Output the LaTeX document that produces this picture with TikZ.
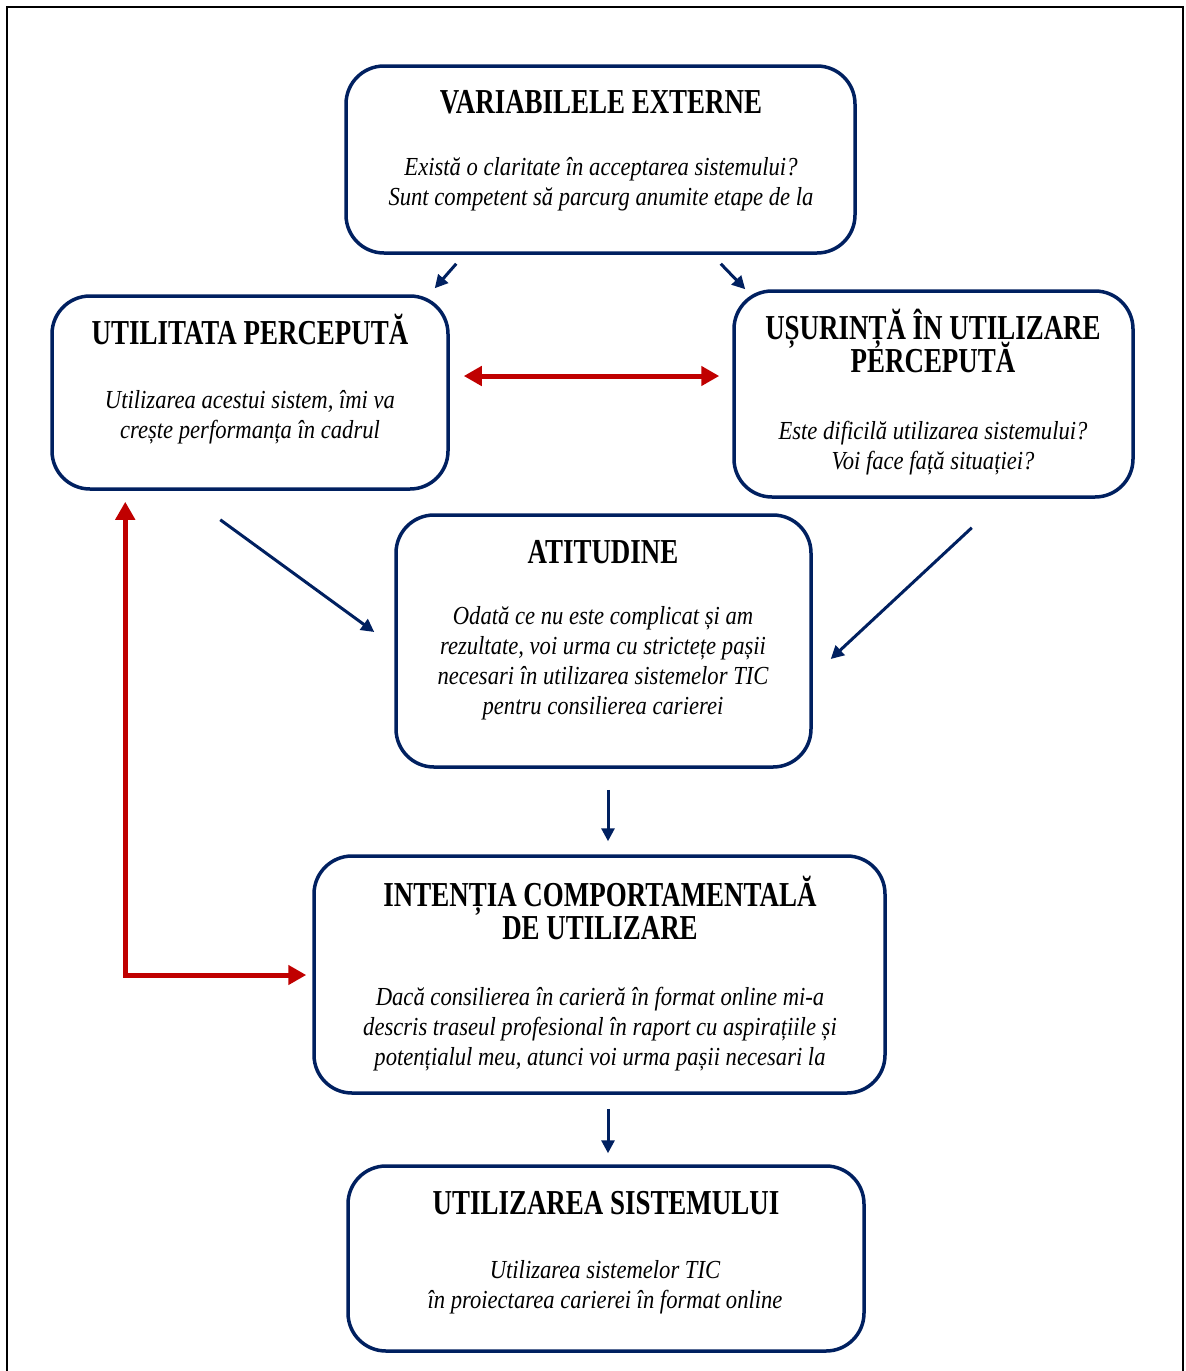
\documentclass[tikz,border=0pt]{standalone}
\usepackage{fontspec}
\setmainfont{Liberation Serif}
\newfontfamily\headfont{Liberation Serif}[FakeStretch=0.77]
\newfontfamily\bodyfont{Liberation Serif}[FakeStretch=0.87]
\usetikzlibrary{arrows.meta,calc,fit}
\definecolor{navy}{HTML}{002060}
\definecolor{darkred}{HTML}{C00000}
% fixed line pitch, even when accents collide
\newcommand{\tightlines}{\lineskiplimit-50pt\relax}

\begin{document}
\begin{tikzpicture}[x=0.5pt,y=-0.5pt,
  box/.style={draw=navy,line width=1.75pt,rounded corners=19pt,inner sep=0pt},
  % multi-line text nodes are anchored on the baseline of their last line
  head/.style={font={\headfont\bfseries\fontsize{17.5}{16.5}\selectfont\tightlines},align=center,anchor=base,inner sep=0pt},
  body/.style={font={\bodyfont\itshape\fontsize{13}{15}\selectfont\tightlines},align=center,anchor=base,inner sep=0pt},
  flow/.style={draw=navy,line width=1.5pt,-{Triangle[length=6.5pt,width=6.5pt]}},
  link/.style={draw=darkred,line width=2.5pt,{Triangle[length=9pt,width=9.5pt]}-{Triangle[length=9pt,width=9.5pt]}}]

\useasboundingbox (0,0) rectangle (1185,1371);
\fill[white] (0,0) rectangle (1185,1371);

% page frame
\draw[black,line width=1.25pt] (7,1380) -- (7,7) -- (1183,7) -- (1183,1380);

% boxes
\node[box,fit={(346,66)(855,253)}] (ve) {};
\node[box,fit={(52,296)(448,489)}] (up) {};
\node[box,fit={(734,291)(1133,497)}] (uu) {};
\node[box,fit={(396,515)(811,767)}] (att) {};
\node[box,fit={(314,856)(885,1093)}] (int) {};
\node[box,fit={(348,1166)(864,1351)}] (us) {};

% texts
\node[head] (ve-t) at (601,113) {VARIABILELE EXTERNE};
\node[body] (ve-b) at (601,205) {Există o claritate în acceptarea sistemului?\\Sunt competent să parcurg anumite etape de la};

\node[head] (up-t) at (250,344) {UTILITATA PERCEPUTĂ};
\node[body] (up-b) at (250,438.5) {Utilizarea acestui sistem, îmi va\\crește performanța în cadrul};

\node[head] (uu-t) at (933,372) {UȘURINȚĂ ÎN UTILIZARE\\PERCEPUTĂ};
\node[body] (uu-b) at (933,469.5) {Este dificilă utilizarea sistemului?\\Voi face față situației?};

\node[head] (att-t) at (603,563) {ATITUDINE};
\node[body] (att-b) at (603,714.5) {Odată ce nu este complicat și am\\rezultate, voi urma cu strictețe pașii\\necesari în utilizarea sistemelor TIC\\pentru consilierea carierei};

\node[head] (int-t) at (600,939) {INTENȚIA COMPORTAMENTALĂ\\DE UTILIZARE};
\node[body] (int-b) at (600,1065.5) {Dacă consilierea în carieră în format online mi-a\\descris traseul profesional în raport cu aspirațiile și\\potențialul meu, atunci voi urma pașii necesari la};

\node[head] (us-t) at (606,1214) {UTILIZAREA SISTEMULUI};
\node[body] (us-b) at (605,1308.5) {Utilizarea sistemelor TIC\\în proiectarea carierei în format online};

% navy connectors
\draw[flow] ($(ve.south west)+(112,9)$) -- ($(up.north east)+(-15,-6)$);
\draw[flow] ($(ve.south east)+(-136,9)$) -- ($(uu.north west)+(13,0)$);
\draw[flow] ($(up.south west)+(170,29)$) -- ($(att.west)+(-20,-9)$);
\draw[flow] ($(uu.south east)+(-163,29)$) -- ($(att.east)+(18,18)$);
\draw[flow] ($(att.south)+(4.5,21)$) -- ($(int.north)+(8.5,-13)$);
\draw[flow] ($(int.south)+(8.5,14)$) -- ($(us.north)+(2,-11)$);

% red connectors
\draw[link] ($(up.east)+(14,-16.5)$) -- ($(uu.west)+(-13,-18)$);
\draw[link] ($(up.south west)+(75,11)$) |- ($(int.west)+(-6,0.5)$);
\end{tikzpicture}
\end{document}
